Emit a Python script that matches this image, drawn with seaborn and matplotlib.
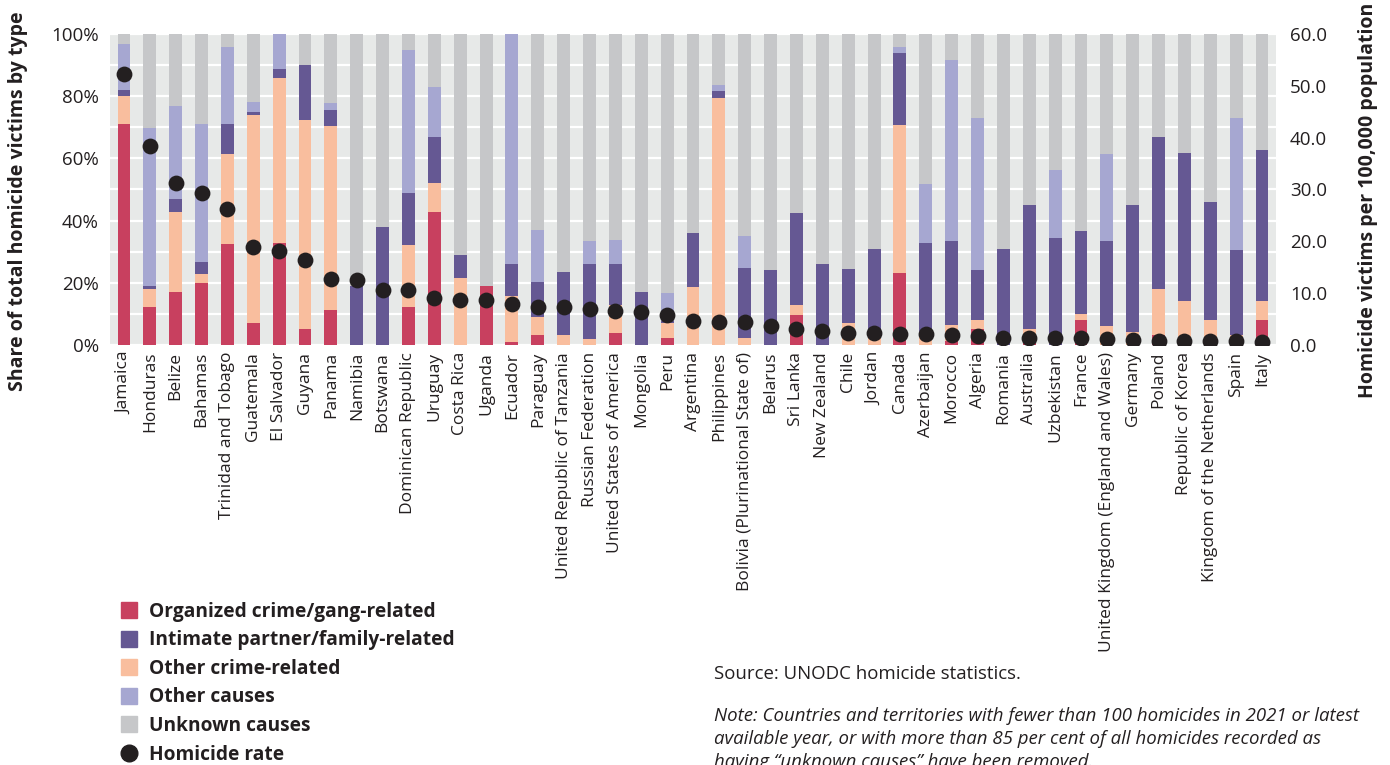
import numpy as np
import pandas as pd
import matplotlib
matplotlib.use("Agg")
import matplotlib.pyplot as plt
from matplotlib.lines import Line2D
import seaborn as sns

countries = ["Jamaica", "Honduras", "Belize", "Bahamas", "Trinidad and Tobago", "Guatemala",
             "El Salvador", "Guyana", "Panama", "Namibia", "Botswana", "Dominican Republic",
             "Uruguay", "Costa Rica", "Uganda", "Ecuador", "Paraguay",
             "United Republic of Tanzania", "Russian Federation", "United States of America",
             "Mongolia", "Peru", "Argentina", "Philippines", "Bolivia (Plurinational State of)",
             "Belarus", "Sri Lanka", "New Zealand", "Chile", "Jordan", "Canada", "Azerbaijan",
             "Morocco", "Algeria", "Romania", "Australia", "Uzbekistan", "France",
             "United Kingdom (England and Wales)", "Germany", "Poland", "Republic of Korea",
             "Kingdom of the Netherlands", "Spain", "Italy"]

organized = [71.1, 12.1, 16.9, 19.8, 32.6, 7.0, 32.9, 5.0, 11.1, 0, 0, 12.1, 42.9, 0, 19.1, 0.9,
             3.1, 0, 0, 3.7, 0, 2.2, 0, 0, 0, 0, 9.8, 0, 0, 0, 23.0, 0, 1.2, 5.0, 0, 1.5, 0, 7.9,
             0, 0, 3.1, 0, 0, 1.5, 7.9]
other_crime = [9.0, 5.8, 26.0, 2.9, 28.7, 67.0, 53.0, 67.2, 59.4, 0, 0, 19.9, 9.1, 21.7, 0, 15.0,
               6.0, 3.1, 2.0, 9.2, 0, 4.9, 18.8, 79.5, 2.1, 0, 3.1, 0, 7.2, 5.0, 47.9, 3.0, 5.1,
               3.0, 0, 3.5, 0, 2.0, 6.2, 4.1, 15.0, 14.0, 8.0, 1.6, 6.1]
intimate = [2.0, 1.1, 4.2, 4.1, 9.8, 1.0, 3.0, 17.7, 5.1, 19.0, 38.1, 17.0, 15.0, 7.1, 0, 10.0,
            11.0, 20.5, 24.2, 13.0, 16.9, 0.6, 17.1, 2.2, 22.8, 24.0, 29.7, 25.9, 17.1, 26.0,
            23.1, 29.9, 27.0, 16.1, 31.0, 39.9, 34.5, 26.6, 27.1, 40.8, 48.9, 47.8, 38.0, 27.6,
            48.8]
other_causes = [14.7, 50.9, 29.8, 44.3, 24.7, 3.2, 11.1, 0, 2.3, 0, 0, 45.9, 16.0, 0, 0, 74.1,
                16.9, 0, 7.1, 8.0, 0, 9.0, 0, 1.9, 10.0, 0, 0, 0, 0, 0, 1.8, 19.0, 58.5, 48.8,
                0, 0, 21.9, 0, 28.2, 0, 0, 0, 0, 42.2, 0]
homicide_rate = [52.2, 38.3, 31.3, 29.3, 26.3, 19.0, 18.2, 16.4, 12.8, 12.6, 10.7, 10.7, 9.05,
                 8.7, 8.7, 8.0, 7.4, 7.25, 6.9, 6.5, 6.3, 5.8, 4.7, 4.4, 4.4, 3.6, 3.0, 2.7, 2.4,
                 2.25, 2.2, 2.05, 1.9, 1.7, 1.4, 1.4, 1.4, 1.3, 1.2, 1.0, 0.85, 0.85, 0.7, 0.7, 0.6]

legend_labels = ["Organized crime/gang-related", "Intimate partner/family-related",
                 "Other crime-related", "Other causes", "Unknown causes", "Homicide rate"]

C_RED = "#c8405f"
C_PURPLE = "#655893"
C_ORANGE = "#f9be9e"
C_LIGHT = "#a6a7d1"
C_GRAY = "#c6c7c9"
C_BG = "#e7e9e8"
C_DOT = "#231f20"
C_TXT = "#231f20"

df = pd.DataFrame({"country": countries, "red": organized, "orange": other_crime,
                   "purple": intimate, "light": other_causes, "rate": homicide_rate})
df["top_red"] = df["red"]
df["top_orange"] = df["top_red"] + df["orange"]
df["top_purple"] = df["top_orange"] + df["purple"]
df["top_light"] = df["top_purple"] + df["light"]
df["top_gray"] = 100.0
df["pos"] = np.arange(len(df))

sns.set_style("white")
plt.rcParams["font.family"] = ["Open Sans", "DejaVu Sans"]

fig = plt.figure(figsize=(13.9, 7.65), dpi=100)
ax = fig.add_axes([110 / 1390, 1 - 345 / 765, (1276 - 110) / 1390, (345 - 34) / 765])
ax.set_facecolor(C_BG)

for col, colr in [("top_gray", C_GRAY), ("top_light", C_LIGHT), ("top_purple", C_PURPLE),
                  ("top_orange", C_ORANGE), ("top_red", C_RED)]:
    sns.barplot(data=df, x="country", y=col, color=colr, saturation=1, width=0.5,
                errorbar=None, ax=ax, zorder=2, linewidth=0)

ax.set_ylim(0, 100)
ax.set_xlim(-0.54, len(df) - 0.46)
ax.set_yticks(np.arange(0, 101, 10))
ax.set_yticklabels([f"{v}%" if v % 20 == 0 else "" for v in range(0, 101, 10)])
ax.yaxis.grid(True, color="white", linewidth=1.6, zorder=0)
ax.set_axisbelow(True)
for s in ax.spines.values():
    s.set_visible(False)
ax.tick_params(axis="y", length=0, labelsize=13.5, colors=C_TXT, pad=8)
ax.tick_params(axis="x", length=0, labelsize=12.5, colors=C_TXT, pad=5)
ax.set_xticks(df["pos"])
ax.set_xticklabels(countries, rotation=90)
ax.set_xlabel("")
ax.set_ylabel("")

ax2 = ax.twinx()
sns.scatterplot(data=df, x="pos", y="rate", ax=ax2, color=C_DOT, s=130, linewidth=0, zorder=5)
ax2.set_ylim(0, 60)
ax2.set_yticks(np.arange(0, 61, 10))
ax2.set_yticklabels([f"{v:.1f}" for v in range(0, 61, 10)])
ax2.tick_params(axis="y", length=0, labelsize=13.5, colors=C_TXT, pad=10)
for s in ax2.spines.values():
    s.set_visible(False)
ax2.set_ylabel("")
ax2.set_xlabel("")
ax2.set_xlim(-0.54, len(df) - 0.46)

fig.text(18 / 1390, 1 - 201 / 765, "Share of total homicide victims by type", rotation=90,
         fontsize=14, fontweight="bold", color=C_TXT, ha="center", va="center")
fig.text(1368 / 1390, 1 - 200 / 765, "Homicide victims per 100,000 population", rotation=90,
         fontsize=14, fontweight="bold", color=C_TXT, ha="center", va="center")

handles = [
    Line2D([], [], marker="s", linestyle="none", color=C_RED, markersize=11),
    Line2D([], [], marker="s", linestyle="none", color=C_PURPLE, markersize=11),
    Line2D([], [], marker="s", linestyle="none", color=C_ORANGE, markersize=11),
    Line2D([], [], marker="s", linestyle="none", color=C_LIGHT, markersize=11),
    Line2D([], [], marker="s", linestyle="none", color=C_GRAY, markersize=11),
    Line2D([], [], marker="o", linestyle="none", color=C_DOT, markersize=12),
]
leg = fig.legend(handles, legend_labels, loc="upper left",
                 bbox_to_anchor=(108 / 1390, 1 - 592 / 765), frameon=False,
                 prop={"size": 13.8, "weight": "bold"}, labelspacing=0.45,
                 handletextpad=0.45, handlelength=1.2, borderpad=0)
for t in leg.get_texts():
    t.set_color(C_TXT)

fig.text(714 / 1390, 1 - 674 / 765, "Source: UNODC homicide statistics.", fontsize=13.4,
         color=C_TXT, va="center", ha="left")
fig.text(714 / 1390, 1 - 707 / 765,
         "Note: Countries and territories with fewer than 100 homicides in 2021 or latest\n"
         "available year, or with more than 85 per cent of all homicides recorded as\n"
         "having \u201cunknown causes\u201d have been removed.",
         fontsize=13.4, style="italic", color=C_TXT, va="top", ha="left", linespacing=1.37)

fig.savefig("out.png", dpi=100)
